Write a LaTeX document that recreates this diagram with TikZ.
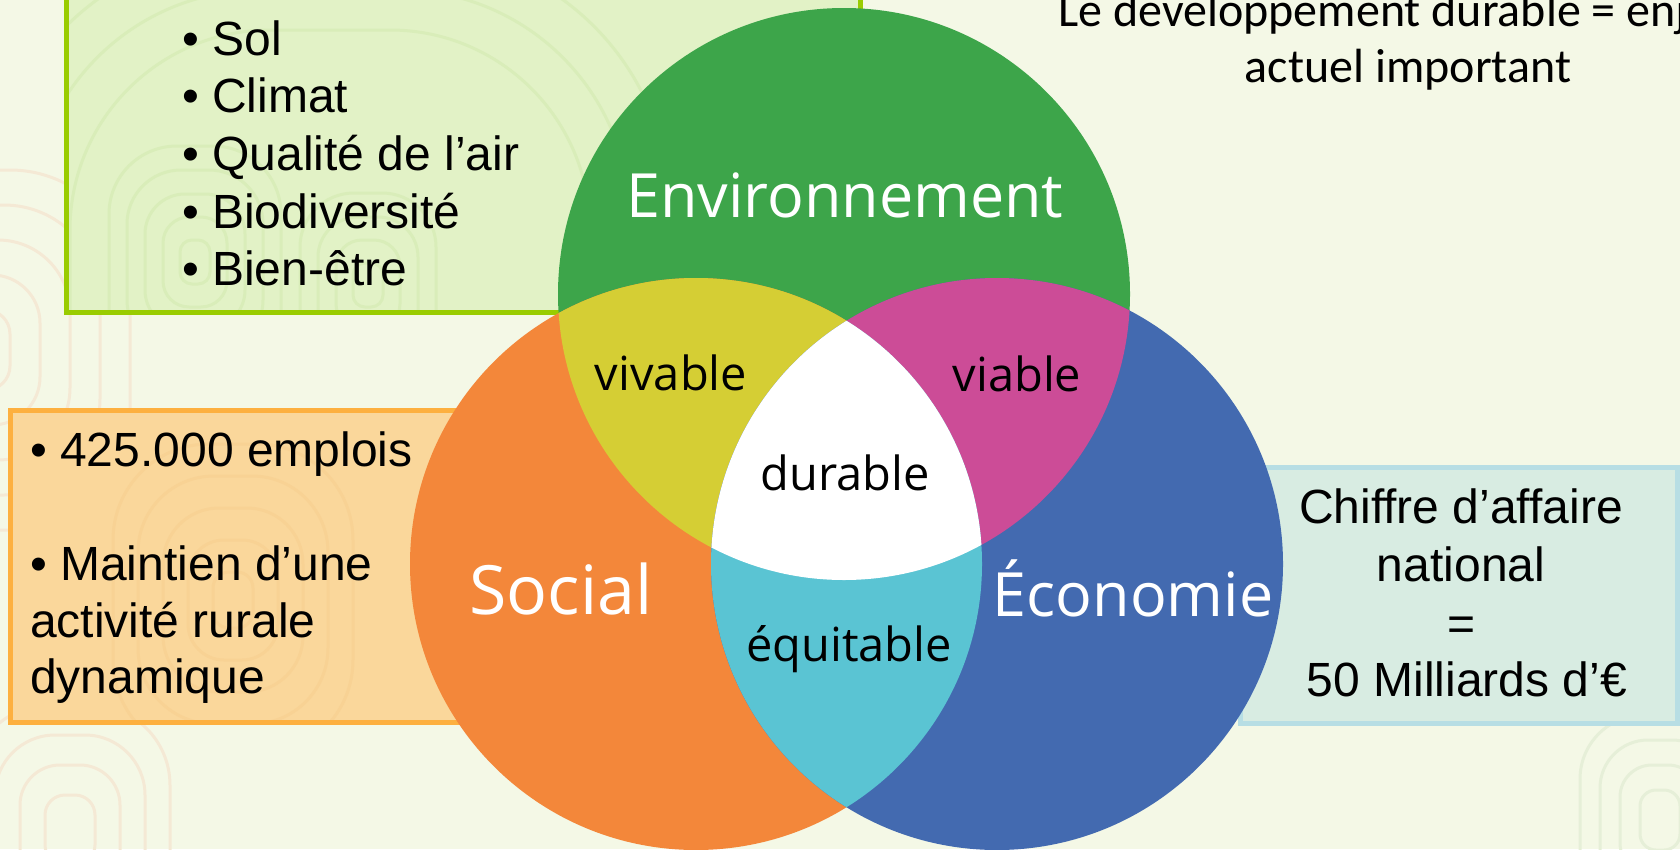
\documentclass[tikz,border=0pt]{standalone}
\usepackage{fontspec}
\setmainfont{Liberation Sans}
\newfontfamily\segoe{Open Sans}
\newfontfamily\calib{Carlito}
\definecolor{bgc}{HTML}{F4F8E6}
\definecolor{cgreen}{HTML}{3DA54A}
\definecolor{corange}{HTML}{F3873A}
\definecolor{cblue}{HTML}{436AB0}
\definecolor{cyellow}{HTML}{D5CE34}
\definecolor{cmag}{HTML}{CC4C97}
\definecolor{ccyan}{HTML}{5AC4D3}
\definecolor{gboxfill}{HTML}{E2F2C6}
\definecolor{gboxline}{HTML}{99CC00}
\definecolor{oboxfill}{HTML}{FAD79B}
\definecolor{oboxline}{HTML}{FDB03F}
\definecolor{bboxfill}{HTML}{D8ECE2}
\definecolor{bboxline}{HTML}{B7DEE4}
\definecolor{contG}{HTML}{D9EDB9}
\definecolor{contP}{HTML}{F4E9D5}
\definecolor{contO}{HTML}{F8D294}
\definecolor{contB}{HTML}{E6EFD8}
\begin{document}
\begin{tikzpicture}[x=1pt,y=-1pt,
  bigwhite/.style={font=\segoe\fontsize{61}{70}\selectfont, text=white, inner sep=0pt, anchor=base},
  socialw/.style={font=\segoe\fontsize{68}{78}\selectfont, text=white, inner sep=0pt, anchor=base},
  smallblack/.style={font=\segoe\fontsize{47}{56}\selectfont, text=black, inner sep=0pt, anchor=base},
  boxline/.style={font=\fontsize{48}{57}\selectfont, text=black, inner sep=0pt, anchor=base west},
  boxcenter/.style={font=\fontsize{48}{57}\selectfont, text=black, inner sep=0pt, anchor=base},
  titleline/.style={font=\calib\fontsize{48}{57}\selectfont, text=black, inner sep=0pt},
  panel/.style={rectangle, line width=5pt, inner sep=0pt, outer sep=0pt},
  contour/.style={line width=3pt}
]
\useasboundingbox (0,0) rectangle (1680,849);
\clip (0,0) rectangle (1680,849);
\fill[bgc] (0,0) rectangle (1680,849);

% faint background contours
\foreach \aw/\ah/\ar in {30/40/24, 60/75/48, 90/110/72, 120/145/96, 150/180/120}
  \draw[contour, contP, rounded corners=\ar pt] ({-20-\aw},{350-\ah}) rectangle ({-20+\aw},{350+\ah});
\foreach \aw/\ah/\ar in {25/35/20, 50/65/40, 75/95/60, 100/125/80}
  \draw[contour, contP, rounded corners=\ar pt] ({70-\aw},{830-\ah}) rectangle ({70+\aw},{830+\ah});
\foreach \aw/\ah/\ar in {20/30/16, 40/55/32, 60/80/48, 80/105/64}
  \draw[contour, contB, rounded corners=\ar pt] ({1660-\aw},{820-\ah}) rectangle ({1660+\aw},{820+\ah});

% green panel
\node[panel, fill=gboxfill, minimum width=794pt, minimum height=350pt] (envbox) at (463,137) {};
\begin{scope}
  \clip (69,-20) rectangle (857,309);
  \foreach \aw/\ah/\ar in {15/22/12, 32/45/26, 50/68/40, 68/92/54, 86/116/68}
    \draw[contour, contG, rounded corners=\ar pt] ({195-\aw},{262-\ah}) rectangle ({195+\aw},{262+\ah});
  \foreach \aw/\ah/\ar in {15/22/12, 32/45/26, 50/68/40, 68/92/54}
    \draw[contour, contG, rounded corners=\ar pt] ({368-\aw},{285-\ah}) rectangle ({368+\aw},{285+\ah});
  \foreach \aw/\ah/\ar in {260/300/200, 300/340/230, 340/380/260}
    \draw[contour, contG, rounded corners=\ar pt] ({330-\aw},{330-\ah}) rectangle ({330+\aw},{330+\ah});
\end{scope}
\node[panel, draw=gboxline, minimum width=794pt, minimum height=350pt] (envboxb) at (463,137) {};

% orange panel
\node[panel, fill=oboxfill, minimum width=460pt, minimum height=312pt] (socbox) at (240,566) {};
\begin{scope}
  \clip (13,413) rectangle (468,719);
  \foreach \aw/\ah/\ar in {20/28/16, 45/60/36, 70/92/56, 95/124/76, 120/156/96}
    \draw[contour, contO, rounded corners=\ar pt] ({233-\aw},{600-\ah}) rectangle ({233+\aw},{600+\ah});
\end{scope}
\node[panel, draw=oboxline, minimum width=460pt, minimum height=312pt] (socboxb) at (240,566) {};

% blue panel
\node[panel, fill=bboxfill, draw=bboxline, minimum width=437pt, minimum height=256pt] (ecobox) at (1458.5,595) {};

% Venn circles
\coordinate (G) at (844,294);
\coordinate (O) at (696,564);
\coordinate (B) at (997,564);
\fill[cgreen] (G) circle[radius=286pt];
\fill[corange] (O) circle[radius=286pt];
\fill[cblue] (B) circle[radius=286pt];
\begin{scope}
  \clip (G) circle[radius=286pt];
  \fill[cyellow] (O) circle[radius=286pt];
\end{scope}
\begin{scope}
  \clip (G) circle[radius=286pt];
  \fill[cmag] (B) circle[radius=286pt];
\end{scope}
\begin{scope}
  \clip (O) circle[radius=286pt];
  \fill[ccyan] (B) circle[radius=286pt];
\end{scope}
\begin{scope}
  \clip (G) circle[radius=286pt];
  \clip (O) circle[radius=286pt];
  \fill[white] (B) circle[radius=286pt];
\end{scope}

% circle labels
\node[bigwhite] (lenv) at (845,217) {Environnement};
\node[socialw] (lsoc) at (561,614) {Social};
\node[bigwhite] (leco) at (1133,616) {Économie};
\node[smallblack] (lviv) at (671,390) {vivable};
\node[smallblack] (lvia) at (1017,391) {viable};
\node[smallblack] (ldur) at (845,490) {durable};
\node[smallblack] (lequ) at (849,661) {équitable};

% green panel text
\node[boxline] (e1) at (182,55) {• Sol};
\node[boxline] (e2) at (182,112) {• Climat};
\node[boxline] (e3) at (182,170) {• Qualité de l’air};
\node[boxline] (e4) at (182,228) {• Biodiversité};
\node[boxline] (e5) at (182,285) {• Bien-être};

% orange panel text
\node[boxline] (s1) at (30,466) {• 425.000 emplois};
\node[boxline] (s2) at (30,580) {• Maintien d’une};
\node[boxline] (s3) at (30,637) {activité rurale};
\node[boxline] (s4) at (30,693) {dynamique};

% blue panel text
\node[boxcenter] (c1) at (1461,523) {Chiffre d’affaire};
\node[boxcenter] (c2) at (1461,581) {national};
\node[boxcenter] (c3) at (1461,640) {=};
\node[boxcenter] (c4) at (1467,696) {50 Milliards d’€};

% title (first line runs past the right edge, as in the reference)
\node[titleline, anchor=base west] (t1) at (1058,26) {Le développement durable = enjeu};
\node[titleline, anchor=base] (t2) at (1408,82) {actuel important};
\end{tikzpicture}
\end{document}
